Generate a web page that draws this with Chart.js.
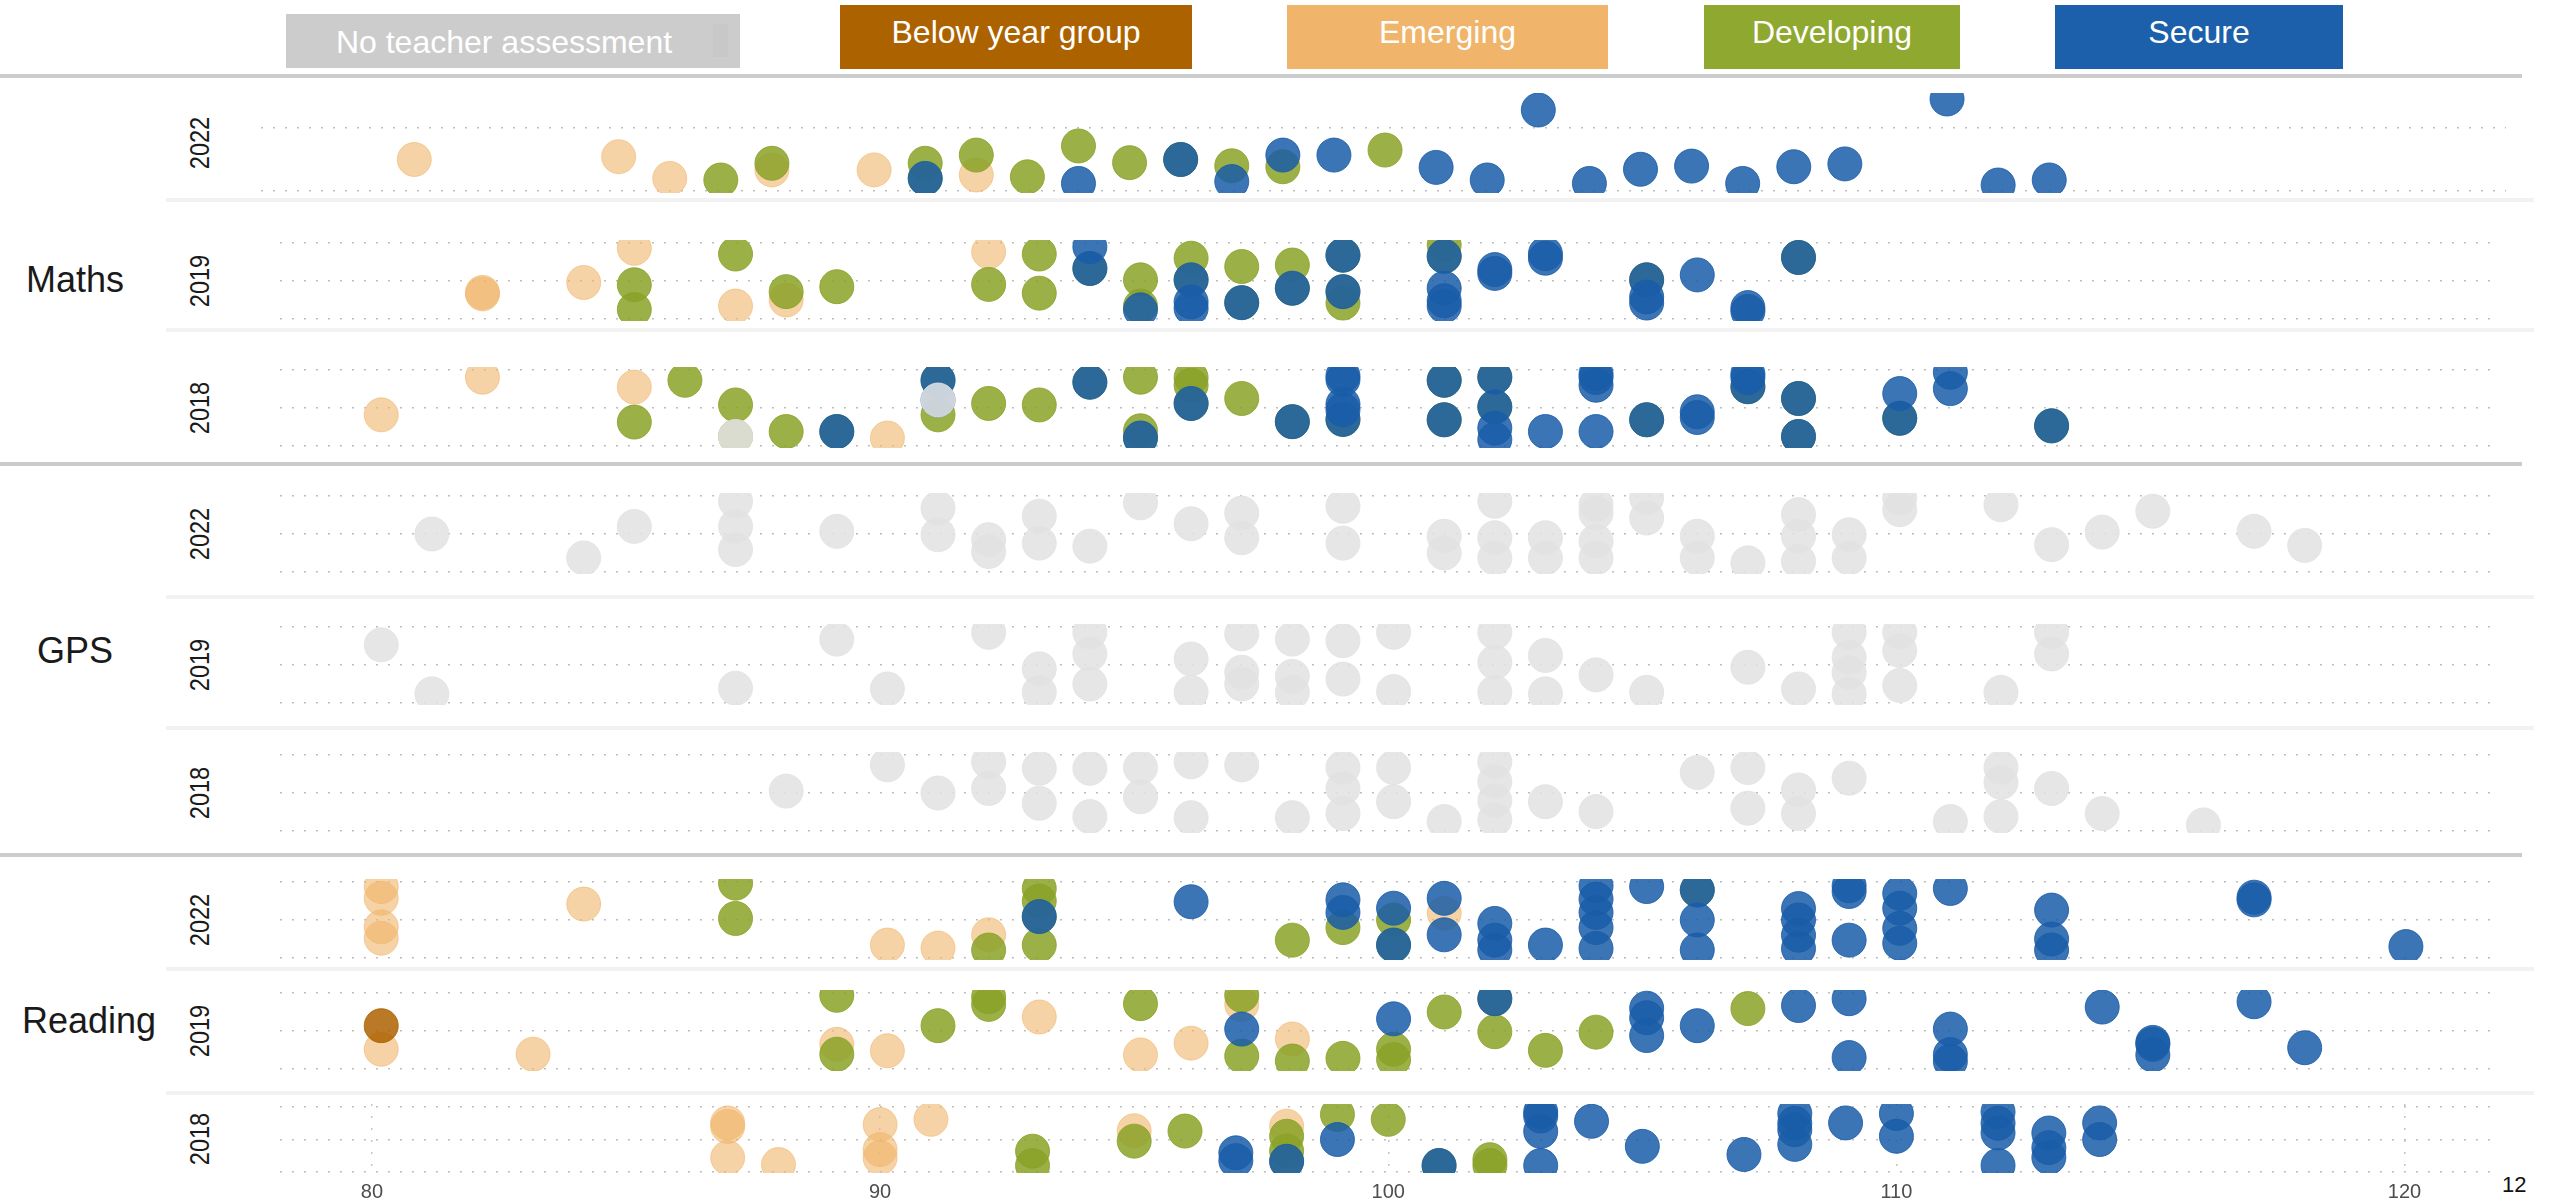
<!DOCTYPE html>
<html lang="en">
<head>
<meta charset="UTF-8" />
<title>Scores by subject and year</title>
<script src="https://cdn.jsdelivr.net/npm/chart.js"></script>
<style>
  body { margin: 0; width: 2549px; height: 1204px; overflow: hidden; background: #fff; position: relative;
         font-family: "Liberation Sans", Arial, sans-serif; }
  .key { position: absolute; color: #fff; font-size: 32px; display: flex; align-items: center; justify-content: center; box-sizing: border-box; }
  .rule { position: absolute; }
  .subject { position: absolute; font-size: 36px; line-height: 1; color: #1a1a1a; transform: translate(-50%, -50%); white-space: nowrap; }
  .year { position: absolute; left: 200px; font-size: 28px; line-height: 1; color: #1a1a1a; transform: translate(-50%, -50%) rotate(-90deg) scaleX(0.84); }
  .strip { position: absolute; }
  .corner { position: absolute; left: 2502px; top: 1174px; font-size: 22px; line-height: 1; color: #111; }
</style>
</head>
<body>

<script>
  // ---- data ----
  const levels = ['No teacher assessment', 'Below year group', 'Emerging', 'Developing', 'Secure'];
  const levelCodes = ['N', 'B', 'E', 'D', 'S'];
  const subjects = ['Maths', 'GPS', 'Reading'];
  const years = ['2022', '2019', '2018'];
  const xTicks = [80, 90, 100, 110, 120];
  const xTickLabels = ['80', '90', '100', '110', '120'];

  // [score, jitter, level code]
  const maths2022 = [
    [81, 0.00, 'E'], [85, 0.09, 'E'], [86, -0.60, 'E'], [88, -0.33, 'E'], [90, -0.33, 'E'], [92, -0.49, 'E'],
    [87, -0.65, 'D'], [88, -0.12, 'D'], [91, -0.12, 'D'], [91, -0.60, 'D'], [92, 0.14, 'D'], [93, -0.55, 'D'],
    [94, 0.43, 'D'], [95, -0.10, 'D'], [96, 0.00, 'D'], [97, -0.20, 'D'], [98, -0.23, 'D'], [100, 0.30, 'D'],
    [91, -0.60, 'S'], [94, -0.76, 'S'], [96, 0.00, 'S'], [97, -0.70, 'S'], [98, 0.14, 'S'], [99, 0.14, 'S'],
    [101, -0.25, 'S'], [102, -0.65, 'S'], [103, 1.57, 'S'], [104, -0.76, 'S'], [105, -0.31, 'S'], [106, -0.21, 'S'],
    [107, -0.76, 'S'], [108, -0.23, 'S'], [109, -0.14, 'S'], [111, 1.92, 'S'], [112, -0.81, 'S'], [113, -0.65, 'S']
  ];
  const maths2019 = [
    [82, -0.34, 'E'], [82, -0.30, 'E'], [84, -0.04, 'E'], [85, 0.86, 'E'], [87, -0.66, 'E'], [88, -0.50, 'E'], [92, 0.77, 'E'],
    [85, -0.10, 'D'], [85, -0.75, 'D'], [87, 0.71, 'D'], [88, -0.28, 'D'], [89, -0.15, 'D'], [92, -0.09, 'D'], [93, 0.71, 'D'],
    [93, -0.32, 'D'], [94, 0.33, 'D'], [95, 0.03, 'D'], [95, -0.66, 'D'], [96, 0.60, 'D'], [96, 0.03, 'D'], [97, 0.38, 'D'],
    [97, -0.57, 'D'], [98, 0.42, 'D'], [98, -0.19, 'D'], [99, 0.68, 'D'], [99, -0.28, 'D'], [99, -0.58, 'D'], [101, 0.95, 'D'],
    [101, 0.65, 'D'], [105, 0.03, 'D'], [108, 0.62, 'D'],
    [94, 0.90, 'S'], [94, 0.33, 'S'], [95, -0.76, 'S'], [96, 0.03, 'S'], [96, -0.55, 'S'], [96, -0.72, 'S'], [97, -0.57, 'S'],
    [98, -0.19, 'S'], [99, 0.68, 'S'], [99, -0.28, 'S'], [101, 0.65, 'S'], [101, -0.19, 'S'], [101, -0.52, 'S'], [101, -0.66, 'S'],
    [102, 0.30, 'S'], [102, 0.20, 'S'], [103, 0.72, 'S'], [103, 0.60, 'S'], [105, 0.03, 'S'], [105, -0.42, 'S'], [105, -0.58, 'S'],
    [106, 0.16, 'S'], [107, -0.70, 'S'], [107, -0.80, 'S'], [108, 0.62, 'S']
  ];
  const maths2018 = [
    [80, -0.18, 'E'], [82, 0.81, 'E'], [85, 0.55, 'E'], [90, -0.79, 'E'],
    [85, -0.37, 'D'], [86, 0.73, 'D'], [87, 0.08, 'D'], [87, -0.75, 'D'], [88, -0.62, 'D'], [89, -0.62, 'D'], [91, 0.73, 'D'],
    [91, -0.18, 'D'], [92, 0.12, 'D'], [93, 0.08, 'D'], [94, 0.68, 'D'], [95, 0.81, 'D'], [95, -0.60, 'D'], [95, -0.79, 'D'],
    [96, 0.80, 'D'], [96, 0.60, 'D'], [96, 0.12, 'D'], [97, 0.25, 'D'], [98, -0.36, 'D'], [99, -0.30, 'D'], [101, 0.73, 'D'],
    [101, -0.31, 'D'], [102, 0.81, 'D'], [102, 0.03, 'D'], [105, -0.31, 'D'], [107, 0.56, 'D'], [108, 0.25, 'D'],
    [108, -0.75, 'D'], [110, -0.27, 'D'], [113, -0.47, 'D'],
    [89, -0.62, 'S'], [91, 0.73, 'S'], [91, 0.21, 'S'], [94, 0.68, 'S'], [95, -0.79, 'S'], [96, 0.12, 'S'], [98, -0.36, 'S'],
    [99, 0.85, 'S'], [99, 0.75, 'S'], [99, 0.10, 'S'], [99, -0.05, 'S'], [99, -0.30, 'S'], [101, 0.73, 'S'], [101, -0.31, 'S'],
    [102, 0.81, 'S'], [102, 0.03, 'S'], [102, -0.53, 'S'], [102, -0.83, 'S'], [103, -0.62, 'S'], [104, 0.90, 'S'], [104, 0.80, 'S'],
    [104, 0.60, 'S'], [104, -0.62, 'S'], [105, -0.31, 'S'], [106, -0.10, 'S'], [106, -0.25, 'S'], [107, 0.90, 'S'], [107, 0.80, 'S'],
    [107, 0.56, 'S'], [108, 0.25, 'S'], [108, -0.75, 'S'], [110, 0.38, 'S'], [110, -0.27, 'S'], [111, 0.94, 'S'], [111, 0.51, 'S'],
    [113, -0.47, 'S'],
    [87, -0.75, 'N'], [91, 0.21, 'N']
  ];
  const gps2022 = [
    [81, 0.00, 'N'], [84, -0.63, 'N'], [85, 0.20, 'N'], [87, 0.86, 'N'], [87, 0.20, 'N'], [87, -0.41, 'N'], [89, 0.07, 'N'],
    [91, 0.68, 'N'], [91, -0.02, 'N'], [92, -0.15, 'N'], [92, -0.46, 'N'], [93, 0.47, 'N'], [93, -0.24, 'N'], [94, -0.32, 'N'],
    [95, 0.82, 'N'], [96, 0.27, 'N'], [97, 0.55, 'N'], [97, -0.10, 'N'], [99, 0.73, 'N'], [99, -0.24, 'N'], [101, -0.06, 'N'],
    [101, -0.50, 'N'], [102, 0.86, 'N'], [102, -0.10, 'N'], [102, -0.63, 'N'], [103, -0.10, 'N'], [103, -0.63, 'N'],
    [104, 0.77, 'N'], [104, 0.55, 'N'], [104, -0.19, 'N'], [104, -0.63, 'N'], [105, 0.95, 'N'], [105, 0.42, 'N'],
    [106, -0.06, 'N'], [106, -0.63, 'N'], [107, -0.76, 'N'], [108, 0.51, 'N'], [108, -0.06, 'N'], [108, -0.72, 'N'],
    [109, -0.02, 'N'], [109, -0.63, 'N'], [110, 0.95, 'N'], [110, 0.64, 'N'], [112, 0.77, 'N'], [113, -0.28, 'N'],
    [114, 0.05, 'N'], [115, 0.60, 'N'], [117, 0.07, 'N'], [118, -0.30, 'N']
  ];
  const gps2019 = [
    [80, 0.53, 'N'], [81, -0.76, 'N'], [87, -0.61, 'N'], [89, 0.68, 'N'], [90, -0.63, 'N'], [92, 0.86, 'N'], [93, -0.10, 'N'],
    [93, -0.72, 'N'], [94, 0.86, 'N'], [94, 0.29, 'N'], [94, -0.50, 'N'], [96, 0.16, 'N'], [96, -0.72, 'N'], [97, 0.82, 'N'],
    [97, -0.19, 'N'], [97, -0.50, 'N'], [98, 0.68, 'N'], [98, -0.30, 'N'], [98, -0.72, 'N'], [99, 0.64, 'N'], [99, -0.37, 'N'],
    [100, 0.86, 'N'], [100, -0.70, 'N'], [102, 0.86, 'N'], [102, 0.07, 'N'], [102, -0.72, 'N'], [103, 0.25, 'N'],
    [103, -0.76, 'N'], [104, -0.26, 'N'], [105, -0.72, 'N'], [107, -0.06, 'N'], [108, -0.63, 'N'], [109, 0.86, 'N'],
    [109, 0.20, 'N'], [109, -0.20, 'N'], [109, -0.76, 'N'], [110, 0.86, 'N'], [110, 0.38, 'N'], [110, -0.54, 'N'],
    [112, -0.72, 'N'], [113, 0.86, 'N'], [113, 0.29, 'N']
  ];
  const gps2018 = [
    [88, 0.05, 'N'], [90, 0.74, 'N'], [91, 0.00, 'N'], [92, 0.82, 'N'], [92, 0.12, 'N'], [93, 0.65, 'N'], [93, -0.27, 'N'],
    [94, 0.65, 'N'], [94, -0.62, 'N'], [95, 0.67, 'N'], [95, -0.10, 'N'], [96, 0.82, 'N'], [96, -0.65, 'N'], [97, 0.74, 'N'],
    [98, -0.65, 'N'], [99, 0.67, 'N'], [99, 0.12, 'N'], [99, -0.54, 'N'], [100, 0.67, 'N'], [100, -0.23, 'N'], [101, -0.75, 'N'],
    [102, 0.82, 'N'], [102, 0.30, 'N'], [102, -0.20, 'N'], [102, -0.70, 'N'], [103, -0.23, 'N'], [104, -0.49, 'N'],
    [106, 0.54, 'N'], [107, 0.67, 'N'], [107, -0.40, 'N'], [108, 0.08, 'N'], [108, -0.54, 'N'], [109, 0.39, 'N'],
    [111, -0.75, 'N'], [112, 0.67, 'N'], [112, 0.28, 'N'], [112, -0.62, 'N'], [113, 0.12, 'N'], [114, -0.54, 'N'], [116, -0.84, 'N']
  ];
  const reading2022 = [
    [80, 0.88, 'E'], [80, 0.57, 'E'], [80, -0.18, 'E'], [80, -0.48, 'E'], [84, 0.42, 'E'], [90, -0.66, 'E'], [91, -0.74, 'E'],
    [92, -0.39, 'E'], [101, 0.18, 'E'],
    [87, 0.97, 'D'], [87, 0.04, 'D'], [92, -0.79, 'D'], [93, 0.83, 'D'], [93, 0.50, 'D'], [93, 0.09, 'D'], [93, -0.66, 'D'],
    [98, -0.53, 'D'], [99, -0.20, 'D'], [100, 0.00, 'D'], [100, -0.66, 'D'], [106, 0.79, 'D'],
    [93, 0.09, 'S'], [96, 0.48, 'S'], [99, 0.53, 'S'], [99, 0.20, 'S'], [100, 0.31, 'S'], [100, -0.66, 'S'], [101, 0.57, 'S'],
    [101, -0.39, 'S'], [102, -0.09, 'S'], [102, -0.53, 'S'], [102, -0.79, 'S'], [103, -0.66, 'S'], [104, 0.90, 'S'],
    [104, 0.55, 'S'], [104, 0.20, 'S'], [104, -0.20, 'S'], [104, -0.75, 'S'], [105, 0.88, 'S'], [106, 0.79, 'S'],
    [106, 0.00, 'S'], [106, -0.79, 'S'], [108, 0.30, 'S'], [108, 0.00, 'S'], [108, -0.40, 'S'], [108, -0.75, 'S'],
    [109, 0.90, 'S'], [109, 0.75, 'S'], [109, -0.53, 'S'], [110, 0.70, 'S'], [110, 0.31, 'S'], [110, -0.22, 'S'],
    [110, -0.61, 'S'], [111, 0.83, 'S'], [113, 0.26, 'S'], [113, -0.50, 'S'], [113, -0.79, 'S'], [117, 0.60, 'S'],
    [117, 0.53, 'S'], [120, -0.70, 'S']
  ];
  const reading2019 = [
    [80, 0.14, 'B'],
    [80, -0.48, 'E'], [83, -0.61, 'E'], [89, -0.35, 'E'], [90, -0.52, 'E'], [93, 0.37, 'E'], [95, -0.63, 'E'], [96, -0.32, 'E'],
    [97, 0.70, 'E'], [98, -0.21, 'E'],
    [89, 0.94, 'D'], [89, -0.61, 'D'], [91, 0.14, 'D'], [92, 0.90, 'D'], [92, 0.70, 'D'], [95, 0.72, 'D'], [97, 0.94, 'D'],
    [97, -0.66, 'D'], [98, -0.79, 'D'], [99, -0.72, 'D'], [100, -0.48, 'D'], [100, -0.75, 'D'], [101, 0.50, 'D'],
    [102, 0.85, 'D'], [102, -0.02, 'D'], [103, -0.51, 'D'], [104, -0.03, 'D'], [107, 0.59, 'D'],
    [97, 0.05, 'S'], [100, 0.32, 'S'], [102, 0.85, 'S'], [105, 0.60, 'S'], [105, 0.35, 'S'], [105, -0.12, 'S'],
    [106, 0.14, 'S'], [108, 0.67, 'S'], [109, 0.85, 'S'], [109, -0.70, 'S'], [111, 0.05, 'S'], [111, -0.62, 'S'],
    [111, -0.80, 'S'], [114, 0.63, 'S'], [115, -0.30, 'S'], [115, -0.35, 'S'], [115, -0.63, 'S'], [117, 0.77, 'S'],
    [118, -0.44, 'S']
  ];
  const reading2018 = [
    [87, 0.51, 'E'], [87, 0.40, 'E'], [87, -0.56, 'E'], [88, -0.77, 'E'], [90, 0.46, 'E'], [90, -0.31, 'E'], [90, -0.56, 'E'],
    [91, 0.62, 'E'], [95, 0.27, 'E'], [98, 0.41, 'E'],
    [93, -0.36, 'D'], [93, -0.80, 'D'], [95, -0.05, 'D'], [96, 0.26, 'D'], [98, 0.10, 'D'], [98, -0.35, 'D'], [98, -0.67, 'D'],
    [99, 0.77, 'D'], [100, 0.62, 'D'], [101, -0.80, 'D'], [102, -0.62, 'D'], [102, -0.80, 'D'],
    [97, -0.41, 'S'], [97, -0.65, 'S'], [98, -0.67, 'S'], [99, 0.00, 'S'], [101, -0.80, 'S'], [103, 0.85, 'S'], [103, 0.72, 'S'],
    [103, 0.25, 'S'], [103, -0.80, 'S'], [104, 0.56, 'S'], [105, -0.21, 'S'], [107, -0.46, 'S'], [108, 0.80, 'S'],
    [108, 0.50, 'S'], [108, 0.30, 'S'], [108, -0.15, 'S'], [109, 0.51, 'S'], [110, 0.80, 'S'], [110, 0.10, 'S'],
    [112, 0.85, 'S'], [112, 0.50, 'S'], [112, 0.20, 'S'], [112, -0.80, 'S'], [113, 0.20, 'S'], [113, -0.25, 'S'],
    [113, -0.55, 'S'], [114, 0.51, 'S'], [114, 0.00, 'S']
  ];

  const stripData = [maths2022, maths2019, maths2018, gps2022, gps2019, gps2018, reading2022, reading2019, reading2018];

  // ---- styles / layout ----
  const keyColours = ['#cccccc', '#ad6200', '#f0b56a', '#8fa830', '#1c5faa'];
  const pointColours = {
    N: 'rgba(226,226,226,0.88)',
    B: 'rgba(173,98,0,0.85)',
    E: 'rgba(240,181,106,0.6)',
    D: 'rgba(139,162,40,0.85)',
    S: 'rgba(26,93,168,0.85)'
  };
  const drawOrder = { N: 0, S: 1, D: 2, B: 3, E: 4 };

  const keyBoxes = [
    { left: 286, top: 14, width: 454, height: 54, pad: '2px 18px 0 0' },
    { left: 840, top: 5, width: 352, height: 64, pad: '0 0 9px 0' },
    { left: 1287, top: 5, width: 321, height: 64, pad: '0 0 9px 0' },
    { left: 1704, top: 5, width: 256, height: 64, pad: '0 0 9px 0' },
    { left: 2055, top: 5, width: 288, height: 64, pad: '0 0 9px 0' }
  ];

  // each strip was laid out on its own, so the x range differs a little between them
  const std = { left: 280, width: 2215, height: 81, yMin: -1.053, yMax: 1.079, lines: [-1, 0, 1], xMin: 78.0, xMax: 121.76 };
  const stripBoxes = [
    { left: 261, width: 2245, top: 93, height: 100, yMin: -1.063, yMax: 2.11, lines: [-1, 1], xMin: 78.0, xMax: 121.94 },
    { ...std, top: 240 },
    { ...std, top: 367 },
    { ...std, top: 493 },
    { ...std, top: 624 },
    { ...std, top: 752 },
    { ...std, top: 879 },
    { ...std, top: 990 },
    { ...std, top: 1104, height: 69, yMin: -1.03, yMax: 1.092, xMin: 78.19, xMax: 121.78 }
  ];
  const AXIS_H = 38;

  const subjectLabelPos = [[75, 280], [75, 651], [89, 1021]];
  const heavyRules = [74, 462, 853];
  const lightRules = [198, 328, 595, 726, 967, 1091];

  Chart.defaults.font.family = '"Liberation Sans", Arial, sans-serif';

  function addDiv(cls, css, text) {
    const d = document.createElement('div');
    d.className = cls;
    d.style.cssText = css;
    if (text !== undefined) d.textContent = text;
    document.body.appendChild(d);
    return d;
  }

  // legend keys
  levels.forEach((name, i) => {
    const b = keyBoxes[i];
    const d = addDiv('key', `left:${b.left}px;top:${b.top}px;width:${b.width}px;height:${b.height}px;background:${keyColours[i]};padding:${b.pad};`, name);
    if (i === 0) {
      const mark = document.createElement('div');
      mark.style.cssText = 'position:absolute;left:427px;top:10px;width:15px;height:33px;background:#c8c8c8;';
      d.appendChild(mark);
    }
  });

  heavyRules.forEach(y => addDiv('rule', `left:0;top:${y}px;width:2522px;height:4px;background:#cccccc;`));
  lightRules.forEach(y => addDiv('rule', `left:166px;top:${y}px;width:2368px;height:4px;background:#f2f2f2;`));

  subjects.forEach((s, i) => {
    addDiv('subject', `left:${subjectLabelPos[i][0]}px;top:${subjectLabelPos[i][1]}px;`, s);
  });

  stripBoxes.forEach((box, i) => {
    addDiv('year', `top:${box.top + box.height / 2}px;`, years[i % 3]);
  });

  addDiv('corner', '', '12');

  function makeStrip(points, box, isBottom) {
    const wrap = addDiv('strip', `left:${box.left}px;top:${box.top}px;width:${box.width}px;height:${box.height + (isBottom ? AXIS_H : 0)}px;`);
    const canvas = document.createElement('canvas');
    wrap.appendChild(canvas);

    const datasets = levelCodes.map((code, k) => ({
      label: levels[k],
      data: points.filter(p => p[2] === code).map(p => ({ x: p[0], y: p[1] })),
      backgroundColor: pointColours[code],
      borderColor: pointColours[code],
      borderWidth: 1,
      pointRadius: 17,
      pointHoverRadius: 17,
      order: drawOrder[code],
      clip: 0
    }));

    new Chart(canvas, {
      type: 'scatter',
      data: { datasets },
      options: {
        responsive: true,
        maintainAspectRatio: false,
        animation: false,
        events: [],
        layout: { padding: 0, autoPadding: false },
        plugins: { legend: { display: false }, tooltip: { enabled: false } },
        scales: {
          x: {
            type: 'linear', min: box.xMin, max: box.xMax, display: isBottom,
            afterBuildTicks: axis => { axis.ticks = xTicks.map(v => ({ value: v })); },
            afterFit: axis => { axis.height = isBottom ? AXIS_H : 0; },
            grid: { color: '#c4c4c4', lineWidth: 1.5, drawTicks: false },
            border: { display: false, dash: [2, 10] },
            ticks: {
              padding: 7, color: '#4d4d4d', font: { size: 20 }, maxRotation: 0, autoSkip: false,
              callback: (v, i) => xTickLabels[i]
            }
          },
          y: {
            type: 'linear', min: box.yMin, max: box.yMax,
            afterBuildTicks: axis => { axis.ticks = box.lines.map(v => ({ value: v })); },
            afterFit: axis => { axis.width = 0; },
            grid: { color: '#bdbdbd', lineWidth: 1.5, drawTicks: false },
            border: { display: false, dash: [2, 10] },
            ticks: { display: false }
          }
        }
      }
    });
  }

  stripBoxes.forEach((box, i) => makeStrip(stripData[i], box, i === stripBoxes.length - 1));
</script>
</body>
</html>
